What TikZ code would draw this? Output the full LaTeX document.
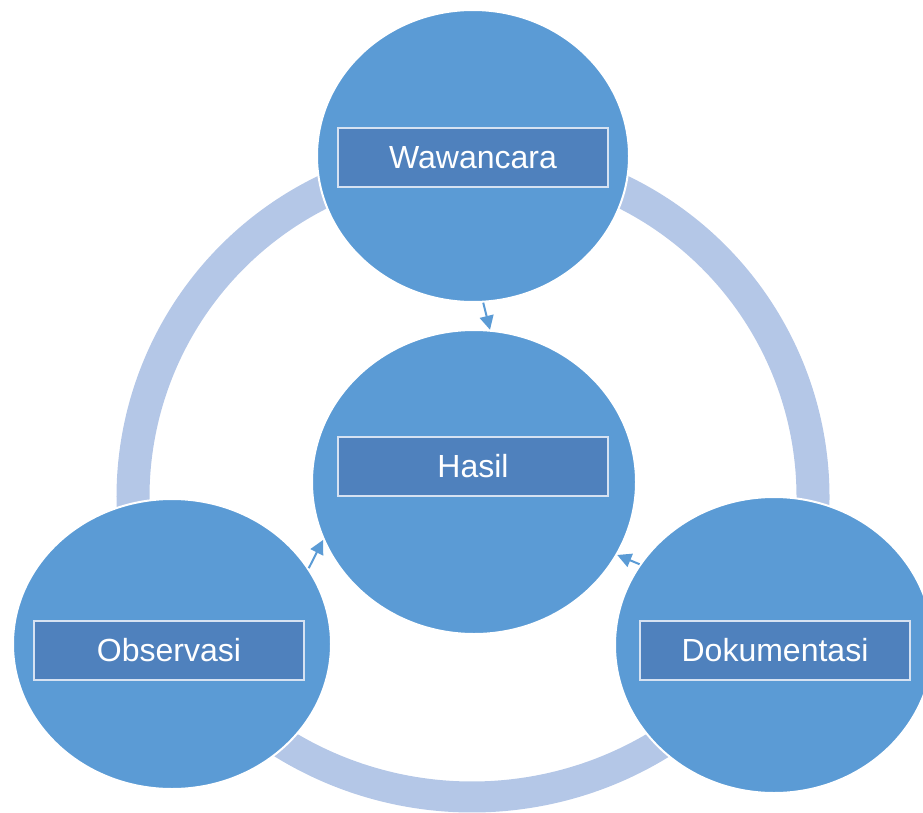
\documentclass[tikz,border=0pt]{standalone}
\usepackage{fontspec}
\setmainfont{Liberation Sans}
\usetikzlibrary{shapes.geometric,arrows.meta}
\definecolor{ringc}{HTML}{B4C7E7}
\definecolor{circc}{HTML}{5B9BD5}
\definecolor{boxc}{HTML}{4F81BD}
\definecolor{boxline}{HTML}{D6E2F2}
\begin{document}
\begin{tikzpicture}[x=1pt,y=-1pt,
  ringarc/.style={draw=ringc, line width=33pt},
  bigcirc/.style={ellipse, fill=circc, draw=white, line width=2pt, inner sep=0pt},
  labelbox/.style={rectangle, fill=boxc, draw=boxline, line width=1.2pt, minimum width=270pt, minimum height=59pt, text=white, font=\fontsize{32}{38}\selectfont, inner sep=0pt},
  conn/.style={draw=circc, line width=2pt, -{Triangle[length=14pt,width=14pt]}}]
\useasboundingbox (0,0) rectangle (923,813);
\coordinate (rc) at (473,497);
\coordinate (bc) at (472,437);
\draw[ringarc] (rc) ++(270:340) arc[start angle=270,end angle=170,radius=340];
\draw[ringarc] (rc) ++(270:340) arc[start angle=270,end angle=370,radius=340];
\draw[ringarc, line width=31pt] (bc) ++(130:360) arc[start angle=130,end angle=50,radius=360];
\node[bigcirc, minimum width=312pt, minimum height=292pt] (waw) at (473,156) {};
\node[bigcirc, minimum width=324pt, minimum height=304pt] (hasil) at (474,482) {};
\node[bigcirc, minimum width=318pt, minimum height=290pt] (obs) at (172,644) {};
\node[bigcirc, minimum width=318pt, minimum height=296pt] (dok) at (774,645) {};
\node[labelbox] (wawl) at (473,157.5) {Wawancara};
\node[labelbox] (hasill) at (473,466.5) {Hasil};
\node[labelbox] (obsl) at (169,650.5) {Observasi};
\node[labelbox] (dokl) at (775,650.5) {Dokumentasi};
\draw[conn] (waw.-86) -- (hasil.84);
\draw[conn] (obs.29) -- (hasil.201);
\draw[conn] (dok.149) -- (hasil.-27);
\end{tikzpicture}
\end{document}
